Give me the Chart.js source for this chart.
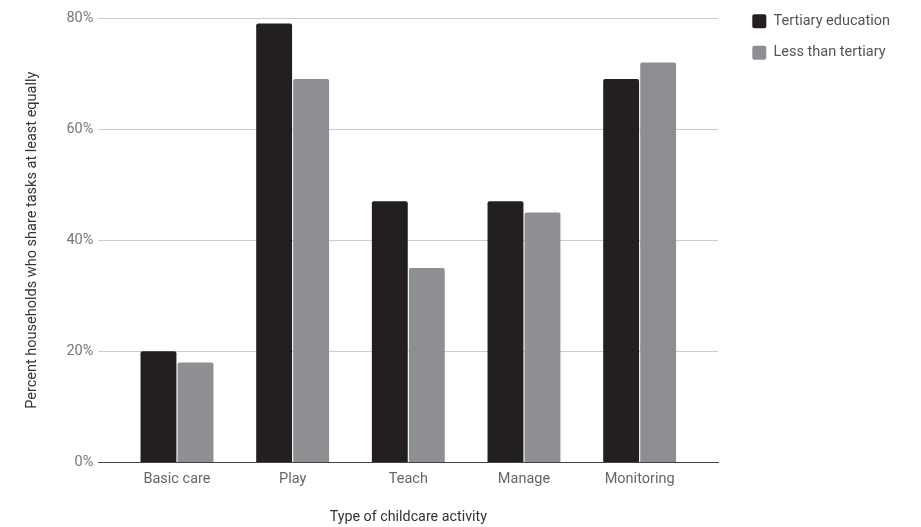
<!DOCTYPE html>
<html>
<head>
<meta charset="utf-8">
<script src="https://cdn.jsdelivr.net/npm/chart.js@4.4.0/dist/chart.umd.min.js"></script>
<style>
  html, body { margin: 0; padding: 0; background: #ffffff; }
  #wrap { width: 921px; height: 527px; }
</style>
</head>
<body>
<div id="wrap"><canvas id="chart" width="921" height="527"></canvas></div>
<script>
// Share of households splitting each childcare task at least equally
const categories = ['Basic care', 'Play', 'Teach', 'Manage', 'Monitoring'];
const tertiary = [20, 79, 47, 47, 69];
const lessThanTertiary = [18, 69, 35, 45, 72];
const yTicks = [0, 20, 40, 60, 80];

const toPoints = vals => vals.map((v, i) => ({ x: i, y: v }));

Chart.defaults.font.family = 'Roboto, "Noto Sans", sans-serif';

// Pins the legend to the upper right, next to the plot area
const legendPlacement = {
  id: 'legendPlacement',
  afterLayout(chart) {
    const lg = chart.legend;
    if (!lg) return;
    const w = lg.width, h = lg.height;
    lg.left = chart.chartArea.right + 17;
    lg.right = lg.left + w;
    lg.top = -3;
    lg.bottom = lg.top + h;
  }
};

new Chart(document.getElementById('chart'), {
  type: 'bar',
  data: {
    datasets: [
      {
        label: 'Tertiary education',
        data: toPoints(tertiary),
        backgroundColor: '#231f20',
        borderRadius: { topLeft: 2, topRight: 2 },
        borderSkipped: 'bottom',
        barPercentage: 0.97,
        categoryPercentage: 0.64
      },
      {
        label: 'Less than tertiary',
        data: toPoints(lessThanTertiary),
        backgroundColor: '#8e8f92',
        borderRadius: { topLeft: 2, topRight: 2 },
        borderSkipped: 'bottom',
        barPercentage: 0.97,
        categoryPercentage: 0.64
      }
    ]
  },
  plugins: [legendPlacement],
  options: {
    responsive: false,
    animation: false,
    layout: { padding: { left: 24, right: 38, top: 18, bottom: 0 } },
    plugins: {
      tooltip: { enabled: false },
      legend: {
        position: 'right',
        align: 'start',
        labels: {
          boxWidth: 14,
          boxHeight: 14,
          useBorderRadius: true,
          borderRadius: 2,
          padding: 17,
          color: '#555555',
          font: { size: 14.5 }
        }
      }
    },
    scales: {
      x: {
        type: 'linear',
        offset: false,
        min: -0.68,
        max: 4.68,
        afterBuildTicks: axis => {
          axis.ticks = categories.map((c, i) => ({ value: i }));
        },
        ticks: {
          color: '#666666',
          font: { size: 14.5 },
          padding: 0,
          maxRotation: 0,
          callback: v => categories[v] ?? ''
        },
        grid: { display: false },
        border: { color: '#444444', width: 1 },
        title: {
          display: true,
          text: 'Type of childcare activity',
          color: '#333333',
          font: { size: 14.3 },
          padding: { top: 21, bottom: 1 }
        }
      },
      y: {
        min: 0,
        max: 80,
        afterBuildTicks: axis => {
          axis.ticks = yTicks.map(v => ({ value: v }));
        },
        ticks: {
          color: '#777777',
          font: { size: 14.5 },
          padding: 5,
          callback: v => v + '%'
        },
        grid: { color: '#cccccc', drawTicks: false },
        border: { display: false },
        title: {
          display: true,
          text: 'Percent households who share tasks at least equally',
          color: '#333333',
          font: { size: 14.5 },
          padding: { top: 0, bottom: 20 }
        }
      }
    }
  }
});
</script>
</body>
</html>
